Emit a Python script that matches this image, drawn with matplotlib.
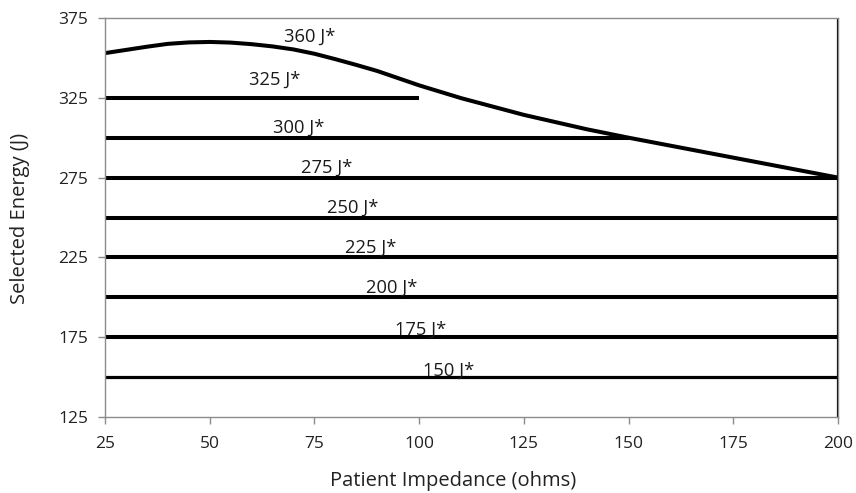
import numpy as np
import matplotlib
matplotlib.use('Agg')
import matplotlib.pyplot as plt

plt.rcParams['font.family'] = ['Open Sans', 'DejaVu Sans']

# curve for the 360 J setting
curve_x = [25, 30, 35, 40, 45, 50, 55, 60, 65, 70, 75, 80, 85, 90, 100, 110, 125, 140, 150, 160, 175, 190, 200]
curve_y = [353, 355, 357, 358.8, 359.7, 360, 359.6, 358.6, 357.2, 355.3, 352.6, 349.2, 345.6, 341.8, 332.8, 324.8, 314.3, 305.3, 300, 295, 287.5, 280, 275]

# flat energy levels and where each stops
levels = [325, 300, 275, 250, 225, 200, 175, 150]
level_end = [100, 150, 200, 200, 200, 200, 200, 200]

labels = ['360 J*', '325 J*', '300 J*', '275 J*', '250 J*', '225 J*', '200 J*', '175 J*', '150 J*']
label_x = [73.9, 65.6, 71.3, 78.0, 84.2, 88.4, 93.5, 100.3, 107.1]
label_y = [360.0, 333.0, 303.0, 277.9, 252.8, 227.8, 202.7, 176.4, 150.7]

x_ticks = [25, 50, 75, 100, 125, 150, 175, 200]
y_ticks = [125, 175, 225, 275, 325, 375]

fig = plt.figure(figsize=(8.56, 4.93), dpi=100)
ax = fig.add_axes([105/856, 1-417/493, 733/856, 399/493])

ax.plot(curve_x, curve_y, color='black', lw=2.9, solid_capstyle='butt')
for lv, end in zip(levels, level_end):
    w = 2.3 if lv == 150 else 2.9
    ax.plot([25, end], [lv, lv], color='black', lw=w, solid_capstyle='butt')
ax.plot([200, 200], [125, 375], color='black', lw=1.6)

for t, lx, ly in zip(labels, label_x, label_y):
    ax.text(lx, ly, t, ha='center', va='baseline', fontsize=13.2, color='#1a1a1a')

ax.set_xlim(25, 200)
ax.set_ylim(125, 375)
ax.set_xticks(x_ticks)
ax.set_yticks(y_ticks)
for s in ax.spines.values():
    s.set_color('#8c8c8c')
    s.set_linewidth(1)
ax.tick_params(axis='both', colors='#8c8c8c', length=5, width=1, labelsize=12.5,
               labelcolor='#222222')
ax.tick_params(axis='x', pad=9)
ax.tick_params(axis='y', pad=7)
fig.text(453/856, 1-481/493, 'Patient Impedance (ohms)', ha='center', va='center',
         fontsize=14.5, color='#222222')
fig.text(20/856, 1-218/493, 'Selected Energy (J)', ha='center', va='center',
         rotation=90, fontsize=14.5, color='#222222')

fig.savefig('out.png', dpi=100)
